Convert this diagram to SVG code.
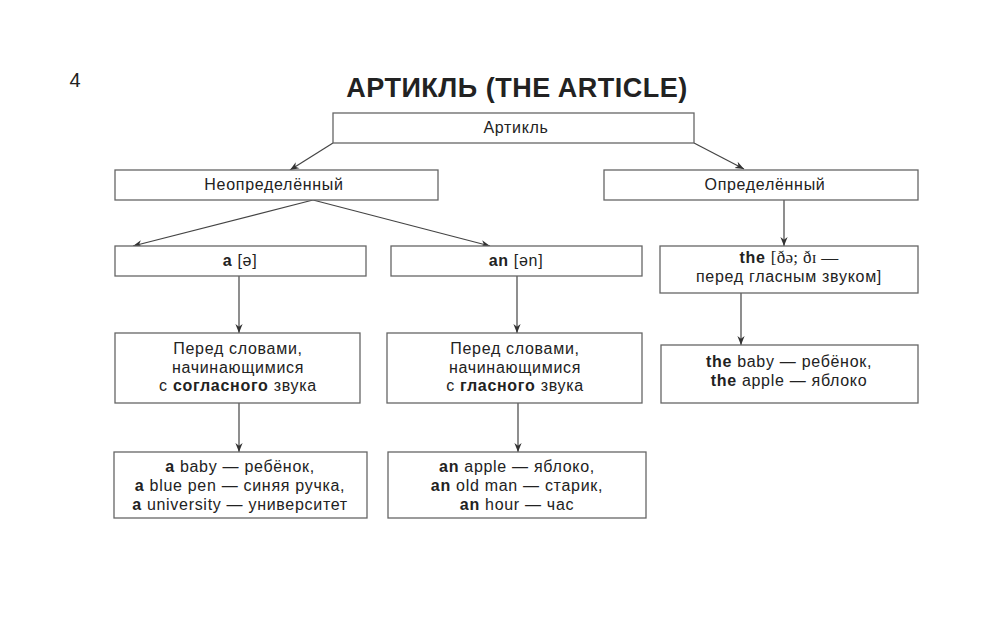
<svg xmlns="http://www.w3.org/2000/svg" width="1000" height="619" viewBox="0 0 1000 619">
<defs>
<marker id="ah" viewBox="0 0 10 10" refX="10" refY="5" markerWidth="9" markerHeight="9" markerUnits="userSpaceOnUse" orient="auto">
<path d="M0,1 L10,5 L0,9 L3,5 Z" fill="#333"/>
</marker>
</defs>
<style>
.box{fill:#fff;stroke:#666;stroke-width:1.3}
.t{font-family:"Liberation Sans",Arial,Helvetica,sans-serif;font-size:16px;letter-spacing:0.7px;fill:#222;text-anchor:middle}
.b{font-weight:bold}
.s{font-family:"Liberation Serif","Times New Roman",serif;font-size:17px;letter-spacing:0.3px}
.conn line{stroke:#444;stroke-width:1.2;marker-end:url(#ah)}
</style>
<rect width="1000" height="619" fill="#fff"/>
<text x="75" y="87" class="t" style="font-size:20px;letter-spacing:0">4</text>
<text x="517" y="97" class="t b" style="font-size:27px;letter-spacing:0.5px">АРТИКЛЬ (THE ARTICLE)</text>

<g class="conn">
<line x1="333" y1="143" x2="290" y2="170"/>
<line x1="694" y1="143" x2="744" y2="169"/>
<line x1="313" y1="200" x2="133" y2="246"/>
<line x1="313" y1="200" x2="490" y2="246"/>
<line x1="784" y1="200" x2="784" y2="246"/>
<line x1="239" y1="276" x2="239" y2="333"/>
<line x1="517" y1="276" x2="517" y2="333"/>
<line x1="741" y1="293" x2="741" y2="345"/>
<line x1="239" y1="403" x2="239" y2="452"/>
<line x1="518" y1="403" x2="518" y2="452"/>
</g>

<g id="n-article">
<rect class="box" x="333" y="113" width="361" height="30"/>
<text class="t" x="516" y="133">Артикль</text>
</g>
<g id="n-indef">
<rect class="box" x="115" y="170" width="323" height="30"/>
<text class="t" x="274" y="190">Неопределённый</text>
</g>
<g id="n-def">
<rect class="box" x="604" y="170" width="314" height="30"/>
<text class="t" x="765" y="190">Определённый</text>
</g>
<g id="n-a">
<rect class="box" x="115" y="246" width="251" height="30"/>
<text class="t" x="240" y="266"><tspan class="b">a</tspan> [ə]</text>
</g>
<g id="n-an">
<rect class="box" x="391" y="246" width="251" height="30"/>
<text class="t" x="516" y="266"><tspan class="b">an</tspan> [ən]</text>
</g>
<g id="n-the">
<rect class="box" x="660" y="246" width="258" height="47"/>
<text class="t" x="789" y="263"><tspan class="b">the</tspan> <tspan class="s">[ðə; ðɪ —</tspan></text>
<text class="t" x="789" y="282">перед гласным звуком]</text>
</g>
<g id="n-a-desc">
<rect class="box" x="115" y="333" width="245" height="70"/>
<text class="t" x="238" y="354">Перед словами,</text>
<text class="t" x="238" y="373">начинающимися</text>
<text class="t" x="238" y="391">с <tspan class="b">согласного</tspan> звука</text>
</g>
<g id="n-an-desc">
<rect class="box" x="387" y="333" width="255" height="70"/>
<text class="t" x="515" y="354">Перед словами,</text>
<text class="t" x="515" y="373">начинающимися</text>
<text class="t" x="515" y="391">с <tspan class="b">гласного</tspan> звука</text>
</g>
<g id="n-the-ex">
<rect class="box" x="661" y="345" width="257" height="58"/>
<text class="t" x="789" y="367"><tspan class="b">the</tspan> baby — ребёнок,</text>
<text class="t" x="789" y="386"><tspan class="b">the</tspan> apple — яблоко</text>
</g>
<g id="n-a-ex">
<rect class="box" x="114" y="452" width="253" height="66"/>
<text class="t" x="240" y="472"><tspan class="b">a</tspan> baby — ребёнок,</text>
<text class="t" x="240" y="491"><tspan class="b">a</tspan> blue pen — синяя ручка,</text>
<text class="t" x="240" y="510"><tspan class="b">a</tspan> university — университет</text>
</g>
<g id="n-an-ex">
<rect class="box" x="388" y="452" width="258" height="66"/>
<text class="t" x="517" y="472"><tspan class="b">an</tspan> apple — яблоко,</text>
<text class="t" x="517" y="491"><tspan class="b">an</tspan> old man — старик,</text>
<text class="t" x="517" y="510"><tspan class="b">an</tspan> hour — час</text>
</g>
</svg>
